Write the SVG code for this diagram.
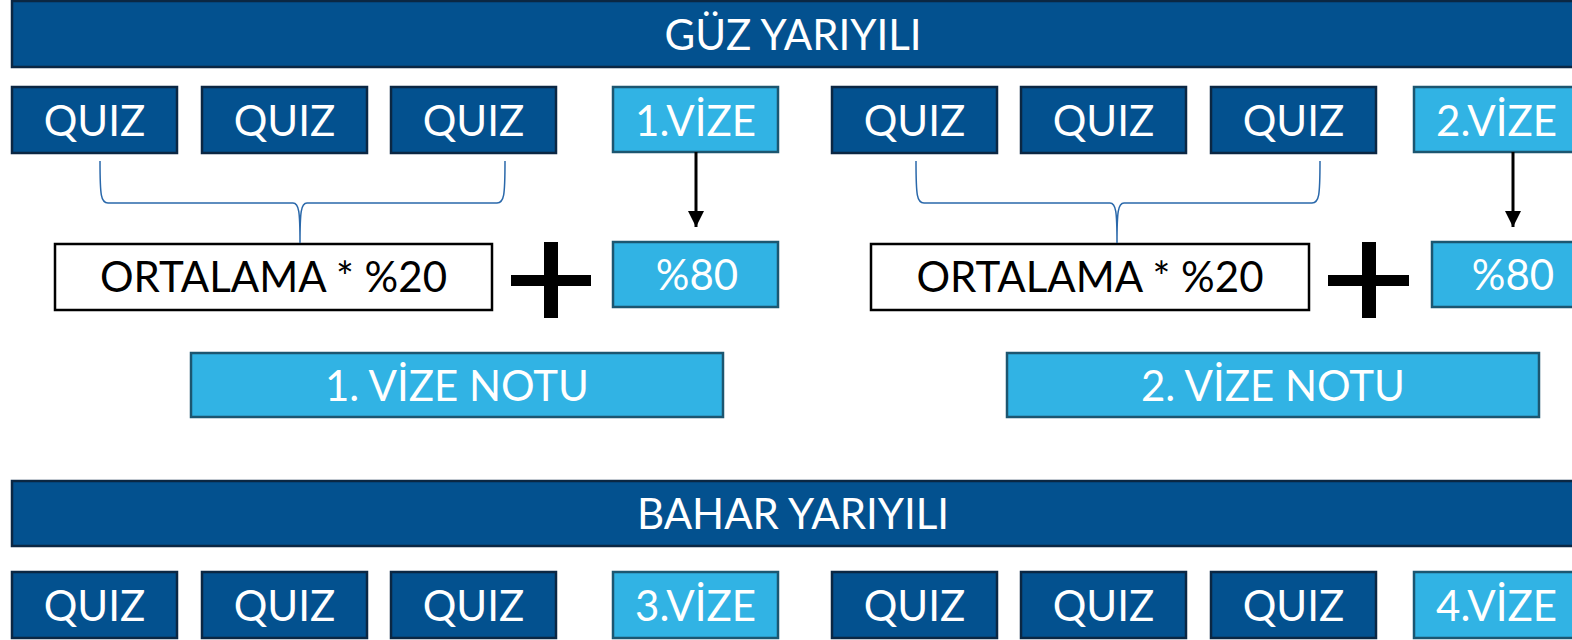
<svg xmlns="http://www.w3.org/2000/svg" width="1572" height="640" viewBox="0 0 1572 640">
<style>
.dark{fill:#03518F;stroke:#0B2743;stroke-width:2.5}
.light{fill:#31B3E4;stroke:#1C5670;stroke-width:2.5}
.white{fill:#FFFFFF;stroke:#000000;stroke-width:2.5}
.t{font-family:Lato,"Open Sans",sans-serif;font-size:42px;text-anchor:middle;fill:#FFFFFF}
.tb{font-family:Lato,"Open Sans",sans-serif;font-size:42px;text-anchor:middle;fill:#000000}
.brace{fill:none;stroke:#2A68AA;stroke-width:1.5}
.plus{fill:#000000}
</style>
<defs>
<marker id="ah" viewBox="0 0 16 16" refX="16" refY="8" markerWidth="16" markerHeight="16" markerUnits="userSpaceOnUse" orient="auto">
<path d="M0,0 L16,8 L0,16 Z" fill="#000"/>
</marker>
</defs>
<g id="guz"><rect class="dark" x="12" y="1" width="1562" height="66"/><text class="t" x="793" y="50">GÜZ YARIYILI</text></g>
<g id="q1"><rect class="dark" x="12" y="87" width="165" height="66"/><text class="t" x="94.5" y="136">QUIZ</text></g>
<g id="q2"><rect class="dark" x="202" y="87" width="165" height="66"/><text class="t" x="284.5" y="136">QUIZ</text></g>
<g id="q3"><rect class="dark" x="391" y="87" width="165" height="66"/><text class="t" x="473.5" y="136">QUIZ</text></g>
<g id="v1"><rect class="light" x="613" y="87" width="165" height="65"/><text class="t" x="695.5" y="136">1.VİZE</text></g>
<g id="q4"><rect class="dark" x="832" y="87" width="165" height="66"/><text class="t" x="914.5" y="136">QUIZ</text></g>
<g id="q5"><rect class="dark" x="1021" y="87" width="165" height="66"/><text class="t" x="1103.5" y="136">QUIZ</text></g>
<g id="q6"><rect class="dark" x="1211" y="87" width="165" height="66"/><text class="t" x="1293.5" y="136">QUIZ</text></g>
<g id="v2"><rect class="light" x="1414" y="87" width="165" height="65"/><text class="t" x="1496.5" y="136">2.VİZE</text></g>
<g id="ort1"><rect class="white" x="55" y="244" width="437" height="66"/><text class="tb" x="273.5" y="292">ORTALAMA * %20</text></g>
<g id="plus1"><rect class="plus" x="544" y="242" width="14" height="76"/><rect class="plus" x="511" y="275" width="80" height="11"/></g>
<g id="p80a"><rect class="light" x="613" y="242" width="165" height="65"/><text class="t" x="697" y="290">%80</text></g>
<g id="ort2"><rect class="white" x="871" y="244" width="438" height="66"/><text class="tb" x="1090" y="292">ORTALAMA * %20</text></g>
<g id="plus2"><rect class="plus" x="1362" y="242" width="14" height="76"/><rect class="plus" x="1328" y="275" width="81" height="11"/></g>
<g id="p80b"><rect class="light" x="1432" y="242" width="165" height="65"/><text class="t" x="1513" y="290">%80</text></g>
<g id="not1"><rect class="light" x="191" y="353" width="532" height="64"/><text class="t" x="457" y="401">1. VİZE NOTU</text></g>
<g id="not2"><rect class="light" x="1007" y="353" width="532" height="64"/><text class="t" x="1273" y="401">2. VİZE NOTU</text></g>
<g id="bahar"><rect class="dark" x="12" y="481" width="1562" height="65"/><text class="t" x="793" y="529">BAHAR YARIYILI</text></g>
<g id="q7"><rect class="dark" x="12" y="572" width="165" height="66"/><text class="t" x="94.5" y="621">QUIZ</text></g>
<g id="q8"><rect class="dark" x="202" y="572" width="165" height="66"/><text class="t" x="284.5" y="621">QUIZ</text></g>
<g id="q9"><rect class="dark" x="391" y="572" width="165" height="66"/><text class="t" x="473.5" y="621">QUIZ</text></g>
<g id="v3"><rect class="light" x="613" y="572" width="165" height="66"/><text class="t" x="695.5" y="621">3.VİZE</text></g>
<g id="q10"><rect class="dark" x="832" y="572" width="165" height="66"/><text class="t" x="914.5" y="621">QUIZ</text></g>
<g id="q11"><rect class="dark" x="1021" y="572" width="165" height="66"/><text class="t" x="1103.5" y="621">QUIZ</text></g>
<g id="q12"><rect class="dark" x="1211" y="572" width="165" height="66"/><text class="t" x="1293.5" y="621">QUIZ</text></g>
<g id="v4"><rect class="light" x="1414" y="572" width="165" height="66"/><text class="t" x="1496.5" y="621">4.VİZE</text></g>
<g id="connectors">
<path class="brace" d="M100,161 C100,196 101,203 108,203 L293,203 C299,203 300,212 300,243 C300,212 301,203 307,203 L497,203 C504,203 505,196 505,161"/>
<path class="brace" d="M916,161 C916,196 917,203 924,203 L1110,203 C1116,203 1117,212 1117,243 C1117,212 1118,203 1124,203 L1312,203 C1319,203 1320,196 1320,161"/>
<line x1="696" y1="152" x2="696" y2="227" stroke="#000" stroke-width="3" marker-end="url(#ah)"/>
<line x1="1513" y1="152" x2="1513" y2="227" stroke="#000" stroke-width="3" marker-end="url(#ah)"/>
</g>
</svg>
